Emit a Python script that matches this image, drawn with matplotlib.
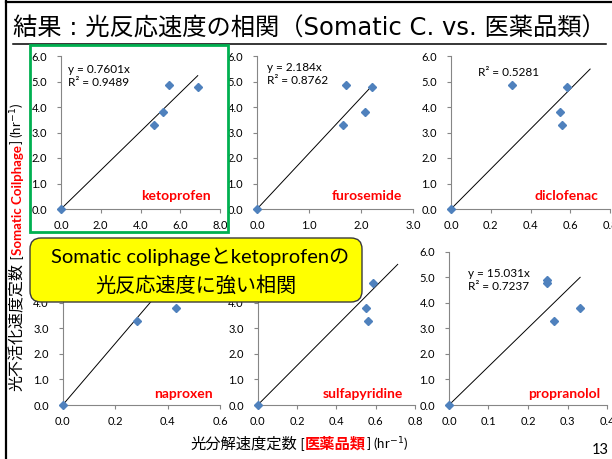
import matplotlib
matplotlib.use("Agg")
import matplotlib.pyplot as plt
from matplotlib.patches import FancyBboxPatch, Rectangle
from matplotlib.lines import Line2D
from matplotlib.transforms import IdentityTransform
from matplotlib.ticker import FormatStrFormatter, MultipleLocator

# --- data ---
drugs = ["ketoprofen", "furosemide", "diclofenac", "naproxen", "sulfapyridine", "propranolol"]
coliphage_k = [0.0, 3.3, 3.8, 4.87, 4.78]          # y values, same for every panel
ketoprofen_k = [0.0, 4.68, 5.11, 5.43, 6.88]
furosemide_k = [0.0, 1.66, 2.08, 1.71, 2.22]
diclofenac_k = [0.0, 0.559, 0.548, 0.309, 0.584]
naproxen_k = [0.0, 0.282, 0.432, 0.33, 0.37]        # last two hidden by the callout
sulfapyridine_k = [0.0, 0.559, 0.551, 0.30, 0.588]
propranolol_k = [0.0, 0.266, 0.332, 0.247, 0.247]
drug_k = [ketoprofen_k, furosemide_k, diclofenac_k, naproxen_k, sulfapyridine_k, propranolol_k]

slopes = [0.7601, 2.184, 7.84, 12.0, 7.72, 15.031]
line_end = [6.88, 2.22, 0.70, 0.432, 0.712, 0.332]
equations = ["y = 0.7601x\nR² = 0.9489", "y = 2.184x\nR² = 0.8762", "R² = 0.5281",
             "", "", "y = 15.031x\nR² = 0.7237"]
x_max = [8, 3, 0.8, 0.6, 0.8, 0.4]
x_step = [2, 1, 0.2, 0.2, 0.2, 0.1]

W, H = 612, 459
LATIN = ["Lato", "Noto Sans CJK JP", "DejaVu Sans"]
plt.rcParams["font.family"] = LATIN
plt.rcParams["mathtext.fontset"] = "dejavusans"

fig = plt.figure(figsize=(W / 100, H / 100), dpi=100)


def box(x0, x1, ytop, ybot):
    return [x0 / W, 1 - ybot / H, (x1 - x0) / W, (ybot - ytop) / H]


axes_px = [(61, 220, 56, 209), (257, 413, 56, 209), (451, 610, 56, 209),
           (62.7, 220, 251.5, 405), (257.7, 415, 251.5, 405), (449, 607, 251.5, 405)]
label_pos = [(0.723, 0.085), (0.705, 0.085), (0.723, 0.085),
             (0.765, 0.072), (0.67, 0.072), (0.728, 0.072)]
eq_pos = [(0.044, 0.95), (0.064, 0.96), (0.17, 0.925), None, None, (0.12, 0.895)]

grey = "#868686"
for i, name in enumerate(drugs):
    ax = fig.add_axes(box(*axes_px[i]))
    ax.patch.set_alpha(0)
    ax.plot(drug_k[i], coliphage_k, "D", color="#4F81BD", markersize=4, zorder=3, clip_on=False)
    ax.plot([0, line_end[i]], [0, slopes[i] * line_end[i]], color="black", lw=0.7, zorder=2)
    ax.set_xlim(0, x_max[i])
    ax.set_ylim(0, 6)
    ax.xaxis.set_major_locator(MultipleLocator(x_step[i]))
    ax.yaxis.set_major_locator(MultipleLocator(1))
    ax.xaxis.set_major_formatter(FormatStrFormatter("%.1f"))
    ax.yaxis.set_major_formatter(FormatStrFormatter("%.1f"))
    for s in ["top", "right"]:
        ax.spines[s].set_visible(False)
    for s in ["left", "bottom"]:
        ax.spines[s].set_color(grey)
        ax.spines[s].set_linewidth(0.8)
    ax.tick_params(axis="both", colors=grey, labelcolor="black", length=3, width=0.8,
                   labelsize=8, direction="out")
    ax.tick_params(axis="y", pad=7)
    ax.tick_params(axis="x", pad=5)
    ax.text(*label_pos[i], name, transform=ax.transAxes, color="#FF0000",
            fontsize=10, fontweight="bold", ha="center", va="center")
    if equations[i]:
        ax.text(*eq_pos[i], equations[i], transform=ax.transAxes, fontsize=8.5,
                ha="left", va="top", linespacing=1.25)

# --- slide decorations ---
fig.add_artist(Line2D([6 / W, 6 / W], [0, 1], color="black", lw=1.6))
fig.add_artist(Line2D([6 / W, 1], [1 - 2 / H, 1 - 2 / H], color="black", lw=1.6))

title = fig.text(13 / W, 1 - 29 / H, "結果 : 光反応速度の相関（Somatic C. vs. 医薬品類）",
                 family=["DejaVu Sans", "Noto Sans CJK JP"], fontsize=17.5,
                 ha="left", va="center")
renderer = fig.canvas.get_renderer()
tb = title.get_window_extent(renderer)
fig.add_artist(Line2D([tb.x0 / W, tb.x1 / W], [1 - 44 / H, 1 - 44 / H], color="black", lw=1.1))

fig.add_artist(Rectangle((30 / W, 1 - 232 / H), 198 / W, 187 / H, fill=False,
                         edgecolor="#00B050", lw=2, zorder=5))

callout = FancyBboxPatch((30, H - 302), 332, 64, boxstyle="round,pad=0,rounding_size=11",
                         transform=IdentityTransform(), facecolor="#FFFF00",
                         edgecolor="#3a3a3a", lw=1, zorder=10)
fig.add_artist(callout)
fig.text(200 / W, 1 - 257 / H, "Somatic coliphageとketoprofenの", fontsize=14.5,
         ha="center", va="center", zorder=11)
fig.text(196 / W, 1 - 285 / H, "光反応速度に強い相関", fontsize=14.5,
         ha="center", va="center", zorder=11)

fig.text(600 / W, 1 - 450 / H, "13", fontsize=10.5, ha="center", va="center")


def multicolor(parts, cx, cy, rotation=0):
    texts = []
    for s, color, weight, size in parts:
        t = fig.text(0, 0, s, transform=IdentityTransform(), color=color, fontweight=weight,
                     fontsize=size, rotation=rotation, rotation_mode="anchor",
                     ha="left", va="baseline")
        texts.append(t)
    sizes = []
    for t in texts:
        bb = t.get_window_extent(renderer)
        sizes.append(bb.height if rotation else bb.width)
    pos = (cy if rotation else cx) - sum(sizes) / 2
    for t, sz in zip(texts, sizes):
        t.set_position((cx, pos) if rotation else (pos, cy))
        pos += sz


multicolor([("光分解速度定数", "black", "normal", 11), (" [", "black", "normal", 10),
            ("医薬品類", "#FF0000", "bold", 11), ("] (hr$^{-1}$)", "black", "normal", 9.5)],
           299, H - 449)
multicolor([("光不活化速度定数", "black", "normal", 11.5), (" [", "black", "normal", 10),
            ("Somatic Coilphage", "#FF0000", "bold", 9.5), ("] (hr$^{-1}$)", "black", "normal", 9.5)],
           22, H - 247, rotation=90)

fig.savefig("out.png", dpi=100)
